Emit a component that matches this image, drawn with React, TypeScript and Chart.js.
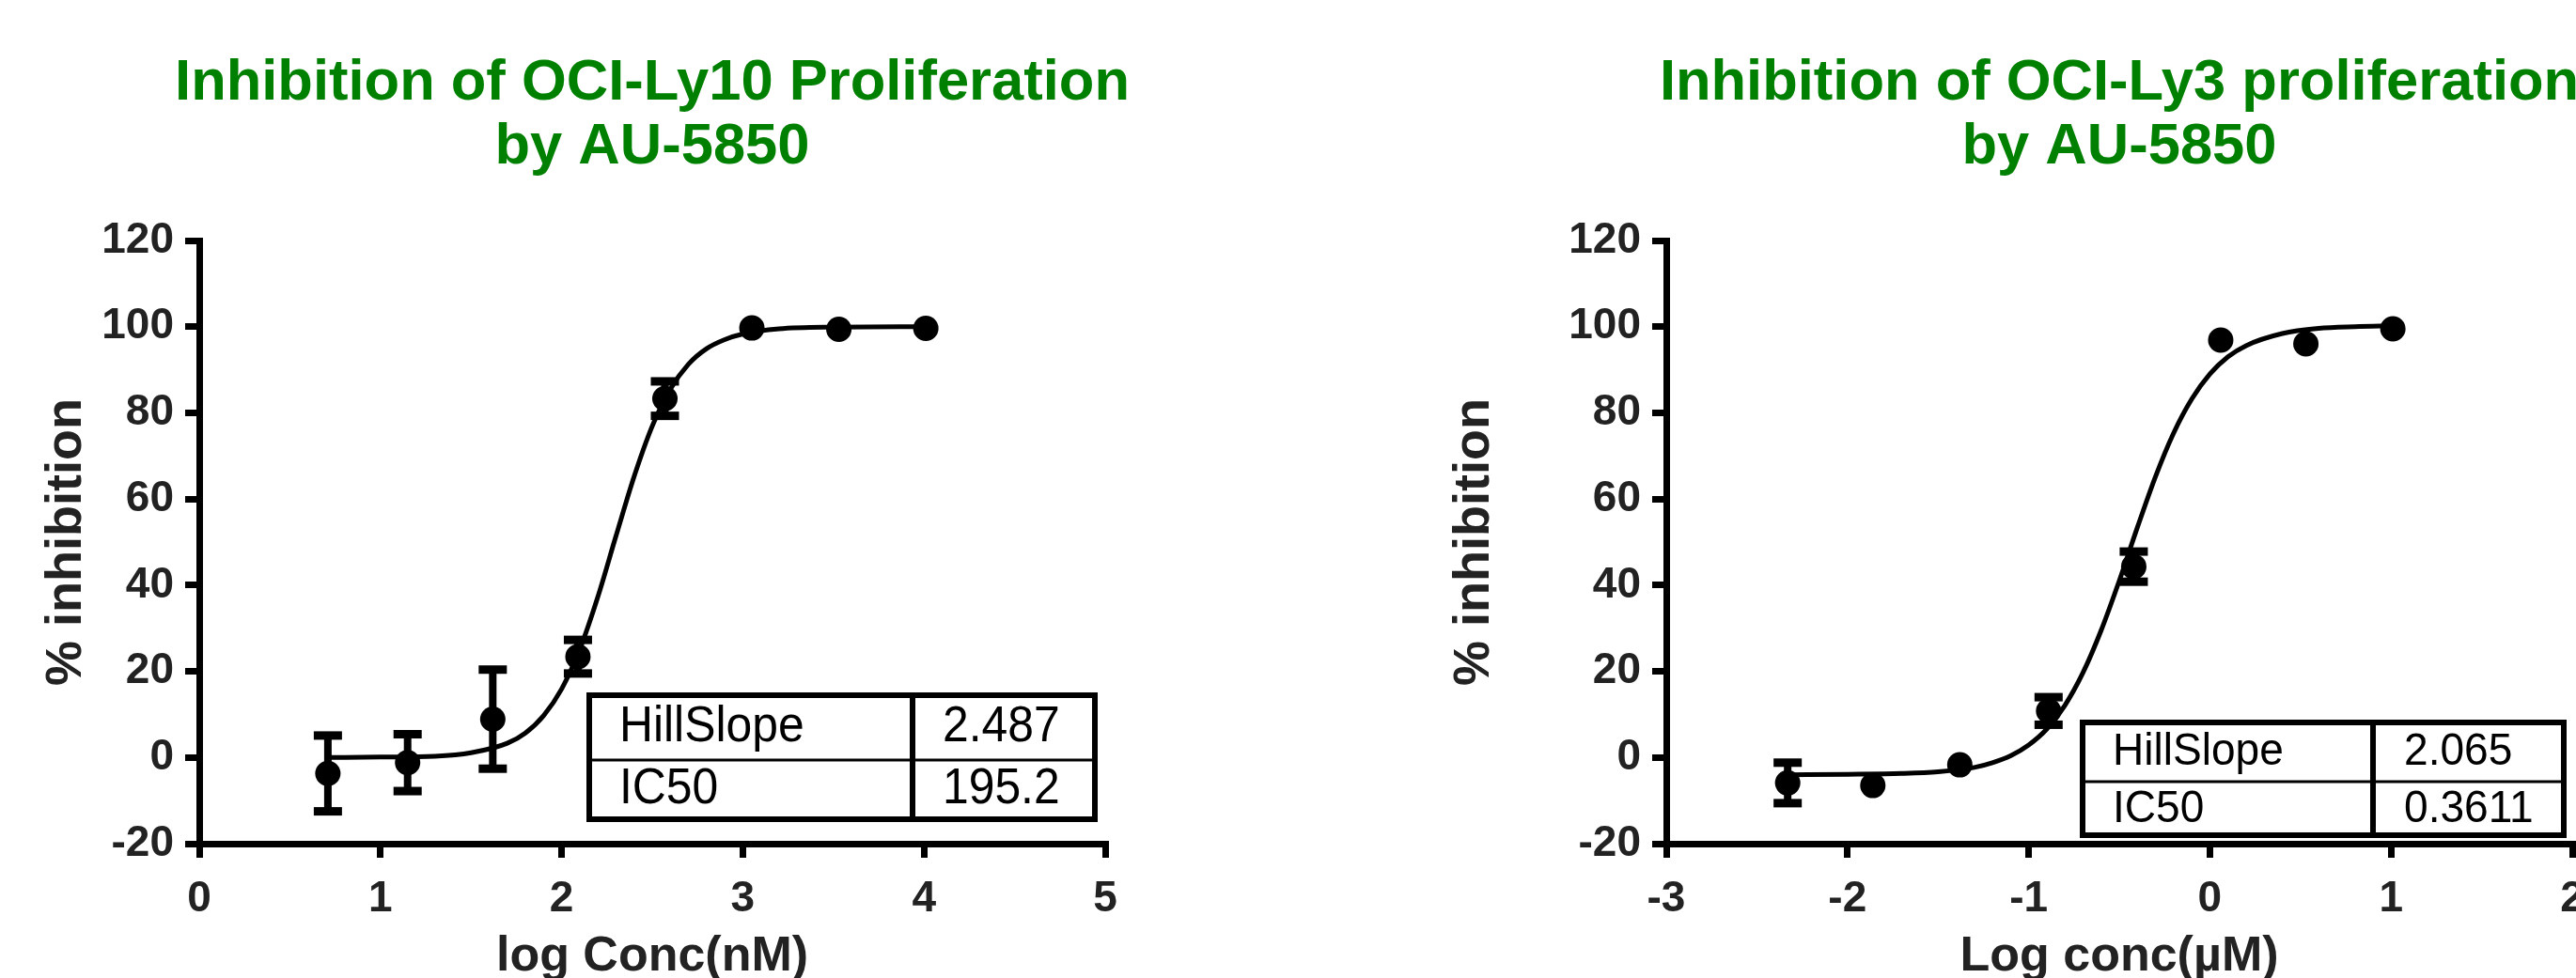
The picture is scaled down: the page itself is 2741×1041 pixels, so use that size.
import React, { useEffect, useRef } from "react";
import { Chart, registerables } from "chart.js";

Chart.register(...registerables);

const FONT = '"Liberation Sans", Arial, Helvetica, sans-serif';

// ---------------- OCI-Ly10 (left panel) ----------------
const ly10Title = ["Inhibition of OCI-Ly10 Proliferation", "by AU-5850"];
const ly10XTitle = "log Conc(nM)";
const ly10XRange = [0, 5];
const ly10LogConc = [0.71, 1.15, 1.62, 2.09, 2.57, 3.05, 3.53, 4.01];
const ly10Inhibition = [-3.7, -1.2, 8.9, 23.4, 83.3, 99.7, 99.4, 99.6];
const ly10Sd = [8.8, 6.6, 11.5, 3.9, 4.0, 0, 0, 0];
const ly10FitLogConc = [0.71, 1.0, 1.3, 1.5, 1.7, 1.8, 1.9, 2.0, 2.1, 2.2, 2.3, 2.4, 2.5, 2.6, 2.7, 2.8, 2.9, 3.0, 3.2, 3.5, 4.01];
const ly10FitInhibition = [0.0, 0.1, 0.3, 1.1, 3.3, 5.7, 9.7, 15.9, 25.1, 37.3, 51.4, 65.2, 76.9, 85.5, 91.3, 94.9, 97.0, 98.3, 99.5, 99.9, 100.0];
const ly10TableLabels = ["HillSlope", "IC50"];
const ly10TableValues = ["2.487", "195.2"];

// ---------------- OCI-Ly3 (right panel) ----------------
const ly3Title = ["Inhibition of OCI-Ly3 proliferation", "by AU-5850"];
const ly3XTitle = "Log conc(\u00B5M)";
const ly3XRange = [-3, 2];
const ly3LogConc = [-2.33, -1.86, -1.38, -0.89, -0.42, 0.06, 0.53, 1.01];
const ly3Inhibition = [-5.9, -6.5, -1.7, 10.8, 44.3, 96.9, 96.0, 99.5];
const ly3Sd = [4.7, 0, 0, 3.2, 3.5, 0, 0, 0];
const ly3FitLogConc = [-2.33, -2.0, -1.7, -1.5, -1.3, -1.2, -1.1, -1.0, -0.9, -0.8, -0.7, -0.6, -0.5, -0.4, -0.3, -0.2, -0.1, 0.0, 0.1, 0.2, 0.4, 0.6, 0.8, 1.01];
const ly3FitInhibition = [-4.0, -3.9, -3.7, -3.3, -2.3, -1.2, 0.4, 2.9, 6.6, 12.1, 19.7, 29.5, 41.0, 53.4, 65.2, 75.3, 83.2, 89.0, 93.0, 95.6, 98.4, 99.6, 100.0, 100.2];
const ly3TableLabels = ["HillSlope", "IC50"];
const ly3TableValues = ["2.065", "0.3611"];

// shared y axis
const yRange = [-20, 120];
const yStep = 20;
const yTitle = "% inhibition";

const CANVAS_H = 1041;
const PLOT_W = 964;

const errorBarPlugin = {
  id: "errorBars",
  afterDatasetsDraw(chart: any, _args: any, opts: any) {
    const { ctx } = chart;
    const xs = chart.scales.x;
    const ys = chart.scales.y;
    const pts = chart.data.datasets[1].data;
    const sd: number[] = opts.sd || [];
    ctx.save();
    ctx.fillStyle = "#000";
    ctx.strokeStyle = "#000";
    pts.forEach((p: any, i: number) => {
      const e = sd[i];
      if (!e) return;
      const px = xs.getPixelForValue(p.x);
      const top = ys.getPixelForValue(p.y + e);
      const bot = ys.getPixelForValue(p.y - e);
      ctx.lineWidth = opts.stemWidth;
      ctx.beginPath();
      ctx.moveTo(px, top);
      ctx.lineTo(px, bot);
      ctx.stroke();
      const cw = opts.capWidth;
      const ch = opts.capHeight;
      ctx.fillRect(px - cw / 2, top - ch / 2, cw, ch);
      ctx.fillRect(px - cw / 2, bot - ch / 2, cw, ch);
    });
    ctx.restore();
  },
};

const tablePlugin = {
  id: "fitTable",
  afterDraw(chart: any, _args: any, t: any) {
    const { ctx, chartArea } = chart;
    const x0 = chartArea.left + t.x;
    const y0 = chartArea.top + t.y;
    ctx.save();
    ctx.fillStyle = "#fff";
    ctx.fillRect(x0, y0, t.w, t.h);
    ctx.strokeStyle = "#000";
    ctx.lineWidth = 6;
    ctx.strokeRect(x0, y0, t.w, t.h);
    ctx.lineWidth = 3;
    ctx.beginPath();
    ctx.moveTo(x0, y0 + t.rowSplit);
    ctx.lineTo(x0 + t.w, y0 + t.rowSplit);
    ctx.stroke();
    ctx.lineWidth = 6;
    ctx.beginPath();
    ctx.moveTo(x0 + t.colSplit, y0);
    ctx.lineTo(x0 + t.colSplit, y0 + t.h);
    ctx.stroke();
    ctx.fillStyle = "#000";
    ctx.font = `${t.fontSize}px ${FONT}`;
    ctx.textAlign = "left";
    ctx.textBaseline = "alphabetic";
    const put = (s: string, x: number, y: number) => {
      ctx.save();
      ctx.translate(x, y);
      ctx.scale(t.scaleX, 1);
      ctx.fillText(s, 0, 0);
      ctx.restore();
    };
    t.labels.forEach((s: string, i: number) => {
      put(s, x0 + t.textX, y0 + t.baselines[i]);
      put(t.values[i], x0 + t.valueX, y0 + t.baselines[i]);
    });
    ctx.restore();
  },
};

type Spec = {
  title: string[];
  xTitle: string;
  xRange: number[];
  x: number[];
  y: number[];
  sd: number[];
  fitX: number[];
  fitY: number[];
  table: any;
  canvasLeft: number;
  yAxisWidth: number;
  yTitlePad: number;
};

function buildConfig(spec: Spec): any {
  const tickFont = { family: FONT, size: 46, weight: "bold" as const };
  const gridOpts = {
    display: true,
    drawOnChartArea: false,
    drawTicks: true,
    tickLength: 15,
    lineWidth: 7,
    tickWidth: 7,
    color: "#000",
    tickColor: "#000",
  };
  return {
    type: "scatter",
    data: {
      datasets: [
        {
          label: "fit",
          data: spec.fitX.map((x, i) => ({ x, y: spec.fitY[i] })),
          xAxisID: "x",
          yAxisID: "y",
          showLine: true,
          borderColor: "#000",
          borderWidth: 5,
          pointRadius: 0,
          cubicInterpolationMode: "monotone",
          fill: false,
        },
        {
          label: "data",
          data: spec.x.map((x, i) => ({ x, y: spec.y[i] })),
          xAxisID: "x",
          yAxisID: "y",
          backgroundColor: "#000",
          borderColor: "#000",
          pointRadius: 13.5,
          pointBorderWidth: 0,
          showLine: false,
        },
      ],
    },
    options: {
      animation: false,
      responsive: false,
      devicePixelRatio: 1,
      layout: { padding: 0 },
      plugins: {
        legend: { display: false },
        tooltip: { enabled: false },
        title: {
          display: true,
          text: spec.title,
          color: "#008000",
          font: { family: FONT, size: 61.5, weight: "bold", lineHeight: 68 / 61.5 },
          padding: { top: 55, bottom: 65 },
        },
        errorBars: { sd: spec.sd, stemWidth: 8, capWidth: 30, capHeight: 9 },
        fitTable: spec.table,
      },
      scales: {
        x: {
          type: "linear",
          min: spec.xRange[0],
          max: spec.xRange[1],
          ticks: {
            stepSize: 1,
            color: "#222",
            font: tickFont,
            padding: 17,
            callback: (v: number) => String(v),
          },
          grid: gridOpts,
          border: { display: true, color: "#000", width: 7 },
          title: {
            display: true,
            text: spec.xTitle,
            color: "#222",
            font: { family: FONT, size: 52, weight: "bold", lineHeight: 0.7 },
            padding: { top: 0, bottom: 4 },
          },
          afterFit: (s: any) => {
            s.height = 143;
          },
        },
        y: {
          type: "linear",
          position: "left",
          min: yRange[0],
          max: yRange[1],
          ticks: {
            stepSize: yStep,
            color: "#222",
            font: tickFont,
            padding: 12,
            callback: (v: number) => String(v),
          },
          grid: gridOpts,
          border: { display: true, color: "#000", width: 7 },
          title: {
            display: true,
            text: yTitle,
            color: "#222",
            font: { family: FONT, size: 54, weight: "bold", lineHeight: 1.2 },
            padding: { top: spec.yTitlePad, bottom: 0 },
          },
          afterFit: (s: any) => {
            s.width = spec.yAxisWidth;
          },
        },
        // invisible spacer on the right so the plot (and title) is centred in the canvas
        pad: {
          type: "linear",
          position: "right",
          display: true,
          grid: { display: false },
          border: { display: false },
          ticks: { display: false },
          title: { display: false },
          afterFit: (s: any) => {
            s.width = spec.yAxisWidth;
          },
        },
      },
    },
    plugins: [errorBarPlugin, tablePlugin],
  };
}

const ly10Spec: Spec = {
  title: ly10Title,
  xTitle: ly10XTitle,
  xRange: ly10XRange,
  x: ly10LogConc,
  y: ly10Inhibition,
  sd: ly10Sd,
  fitX: ly10FitLogConc,
  fitY: ly10FitInhibition,
  table: {
    x: 415, y: 484, w: 538, h: 132, rowSplit: 69, colSplit: 344,
    fontSize: 53, scaleX: 0.94, textX: 32, valueX: 376, baselines: [49, 115],
    labels: ly10TableLabels, values: ly10TableValues,
  },
  canvasLeft: 0,
  yAxisWidth: 212,
  yTitlePad: 39,
};

const ly3Spec: Spec = {
  title: ly3Title,
  xTitle: ly3XTitle,
  xRange: ly3XRange,
  x: ly3LogConc,
  y: ly3Inhibition,
  sd: ly3Sd,
  fitX: ly3FitLogConc,
  fitY: ly3FitInhibition,
  table: {
    x: 443, y: 513, w: 512, h: 120, rowSplit: 63, colSplit: 309,
    fontSize: 48, scaleX: 0.96, textX: 32, valueX: 342, baselines: [45, 106],
    labels: ly3TableLabels, values: ly3TableValues,
  },
  canvasLeft: 1501,
  yAxisWidth: 272,
  yTitlePad: 36,
};

function DoseChart({ spec }: { spec: Spec }) {
  const ref = useRef<HTMLCanvasElement | null>(null);
  const w = spec.yAxisWidth * 2 + PLOT_W;
  useEffect(() => {
    if (!ref.current) return;
    const chart = new Chart(ref.current, buildConfig(spec));
    return () => chart.destroy();
  }, [spec]);
  return (
    <canvas
      ref={ref}
      width={w}
      height={CANVAS_H}
      style={{
        position: "absolute",
        left: spec.canvasLeft,
        top: 0,
        width: w,
        height: CANVAS_H,
        display: "block",
      }}
    />
  );
}

export default function App() {
  return (
    <div
      style={{
        position: "fixed",
        left: 0,
        top: 0,
        width: 2741,
        height: 1041,
        overflow: "hidden",
        background: "#fff",
      }}
    >
      <DoseChart spec={ly10Spec} />
      <DoseChart spec={ly3Spec} />
    </div>
  );
}
